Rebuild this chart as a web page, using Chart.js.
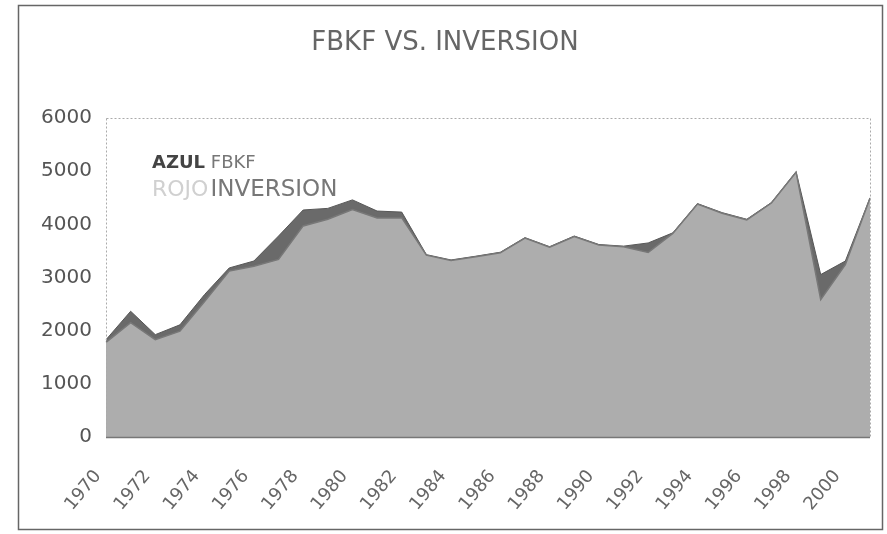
<!DOCTYPE html>
<html>
<head>
<meta charset="utf-8">
<script src="https://cdn.jsdelivr.net/npm/chart.js@4.4.1/dist/chart.umd.min.js"></script>
<style>
  html, body { margin: 0; padding: 0; background: #fff; }
  #wrap { width: 887px; height: 534px; }
</style>
</head>
<body>
<div id="wrap"><canvas id="c" width="887" height="534"></canvas></div>
<script>
const years = ['1970','1971','1972','1973','1974','1975','1976','1977','1978','1979',
  '1980','1981','1982','1983','1984','1985','1986','1987','1988','1989',
  '1990','1991','1992','1993','1994','1995','1996','1997','1998','1999',
  '2000','2001'];
const fbkf = [1830, 2365, 1925, 2110, 2680, 3180, 3310, 3780, 4270, 4300,
  4460, 4250, 4230, 3430, 3330, 3400, 3475, 3750, 3580, 3780,
  3620, 3590, 3650, 3840, 4390, 4220, 4095, 4410, 4990, 3055,
  3310, 4500];
const inversion = [1780, 2150, 1830, 1990, 2550, 3120, 3210, 3340, 3970, 4095,
  4280, 4120, 4120, 3420, 3320, 3390, 3465, 3740, 3570, 3770,
  3610, 3580, 3470, 3830, 4380, 4210, 4085, 4400, 4980, 2585,
  3240, 4490];
const yTicks = [0, 1000, 2000, 3000, 4000, 5000, 6000];
const titleText = 'FBKF VS. INVERSION';
const noteLine1 = ['AZUL', ' FBKF'];
const noteLine2 = ['ROJO', 'INVERSION'];

const FONT = '"DejaVu Sans", sans-serif';

const framePlugin = {
  id: 'frame',
  beforeDraw(chart) {
    const ctx = chart.ctx;
    ctx.save();
    ctx.fillStyle = '#ffffff';
    ctx.fillRect(0, 0, chart.width, chart.height);
    ctx.strokeStyle = '#666';
    ctx.lineWidth = 1.5;
    ctx.strokeRect(18.5, 5.5, 864, 524);
    ctx.restore();
  },
  afterDatasetsDraw(chart) {
    const ctx = chart.ctx;
    const a = chart.chartArea;
    ctx.save();
    ctx.strokeStyle = '#aaa';
    ctx.lineWidth = 1;
    ctx.setLineDash([2, 2]);
    ctx.strokeRect(a.left + 0.5, a.top + 0.5, a.right - a.left, a.bottom - a.top);
    ctx.setLineDash([]);
    ctx.strokeStyle = '#777';
    ctx.lineWidth = 1.5;
    ctx.beginPath();
    ctx.moveTo(a.left, a.bottom + 0.5);
    ctx.lineTo(a.right, a.bottom + 0.5);
    ctx.stroke();
    // note text
    ctx.textBaseline = 'alphabetic';
    ctx.textAlign = 'left';
    ctx.font = 'bold 18px ' + FONT;
    ctx.fillStyle = '#444';
    ctx.fillText(noteLine1[0], 152, 168);
    let w = ctx.measureText(noteLine1[0]).width;
    ctx.font = '18px ' + FONT;
    ctx.fillStyle = '#777';
    ctx.fillText(noteLine1[1], 152 + w, 168);
    ctx.font = '22px ' + FONT;
    ctx.fillStyle = '#d0d0d0';
    ctx.fillText(noteLine2[0], 152, 196);
    w = ctx.measureText(noteLine2[0]).width;
    ctx.font = '23px ' + FONT;
    ctx.fillStyle = '#777';
    ctx.fillText(noteLine2[1], 152 + w + 2, 196);
    ctx.restore();
  }
};

new Chart(document.getElementById('c'), {
  type: 'line',
  data: {
    labels: years,
    datasets: [
      {
        label: 'FBKF',
        data: fbkf,
        fill: 'origin',
        backgroundColor: '#6a6a6a',
        borderColor: '#575757',
        borderWidth: 1,
        pointRadius: 0,
        tension: 0,
        order: 2
      },
      {
        label: 'INVERSION',
        data: inversion,
        fill: 'origin',
        backgroundColor: '#adadad',
        borderColor: '#787878',
        borderWidth: 1.5,
        pointRadius: 0,
        tension: 0,
        order: 1
      }
    ]
  },
  options: {
    responsive: false,
    animation: false,
    devicePixelRatio: 1,
    layout: { padding: { left: 20, top: 5, right: 17, bottom: 8 } },
    plugins: {
      legend: { display: false },
      tooltip: { enabled: false },
      title: {
        display: true,
        text: titleText,
        color: '#666',
        font: { family: FONT, size: 26, weight: 'normal', lineHeight: 1.2 },
        padding: { top: 23, bottom: 58.8 }
      }
    },
    scales: {
      x: {
        grid: { display: false, drawTicks: false },
        border: { display: false },
        ticks: {
          autoSkip: false,
          minRotation: 50,
          maxRotation: 50,
          padding: 29,
          labelOffset: -8,
          color: '#666',
          font: { family: FONT, size: 18 },
          callback: function (value, index) {
            return index % 2 === 0 ? years[index] : '';
          }
        },
        afterFit(scale) {
          scale.height = 534 - 8 - 437;
          scale.paddingLeft = 0;
          scale.paddingRight = 0;
        }
      },
      y: {
        min: 0,
        max: 6000,
        afterBuildTicks(scale) { scale.ticks = yTicks.map(v => ({ value: v })); },
        grid: { display: false, drawTicks: false },
        border: { display: false },
        ticks: {
          padding: 14,
          color: '#555',
          font: { family: FONT, size: 20 },
          callback: function (value) { return String(value); }
        },
        afterFit(scale) { scale.width = 106 - 20; }
      }
    }
  },
  plugins: [framePlugin]
});
</script>
</body>
</html>
